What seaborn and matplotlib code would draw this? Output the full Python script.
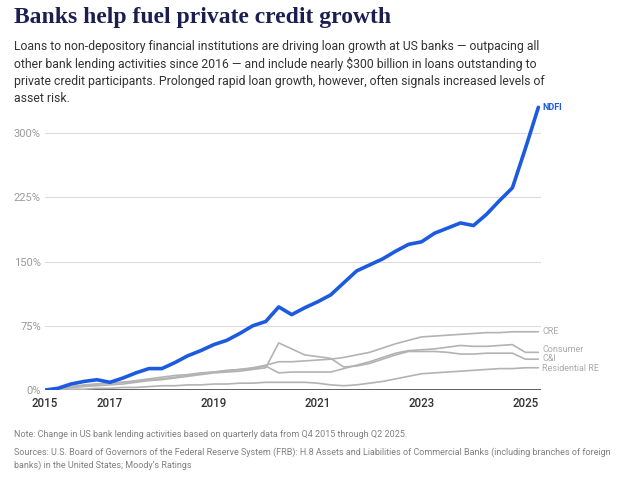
import numpy as np
import pandas as pd
import matplotlib
matplotlib.use('Agg')
import matplotlib.pyplot as plt
import seaborn as sns

# quarterly from Q4 2015 through Q2 2025
quarters = [2015.75 + 0.25 * i for i in range(39)]

ndfi = [0, 2, 7, 10, 12, 9, 14, 20, 25, 25, 32, 40, 46, 53, 58, 66, 75, 80, 97, 88,
        96, 103, 111, 125, 139, 146, 153, 162, 170, 173, 183, 189, 195, 192, 205, 221,
        236, 282, 330]
cre = [0, 1, 3, 5, 7, 8, 9, 11, 13, 15, 17, 18, 20, 21, 23, 24, 26, 29, 33, 33,
       34, 35, 36, 38, 41, 44, 49, 54, 58, 62, 63, 64, 65, 66, 67, 67, 68, 68, 68]
consumer = [0, 2, 4, 6, 7, 8, 9, 10, 12, 13, 15, 17, 19, 21, 22, 24, 25, 28, 20, 21,
            21, 21, 21, 25, 29, 33, 38, 43, 46, 47, 48, 50, 52, 51, 51, 52, 53, 44, 44]
c_and_i = [0, 1, 3, 4, 5, 6, 7, 9, 11, 12, 14, 16, 18, 20, 21, 22, 24, 26, 55, 48,
           41, 39, 37, 27, 28, 31, 36, 41, 45, 45, 45, 44, 42, 42, 43, 43, 43, 36, 36]
residential = [0, 0, 1, 1, 2, 2, 3, 3, 4, 5, 5, 6, 6, 7, 7, 8, 8, 9, 9, 9,
               9, 8, 6, 5, 6, 8, 10, 13, 16, 19, 20, 21, 22, 23, 24, 25, 25, 26, 26]

year_ticks = [2015.75, 2017, 2019, 2021, 2023, 2025]
year_labels = ['2015', '2017', '2019', '2021', '2023', '2025']
pct_ticks = [0, 75, 150, 225, 300]

sns.set_style('white')
plt.rcParams['font.family'] = ['Roboto', 'DejaVu Sans']

fig = plt.figure(figsize=(6.27, 4.83), dpi=100)
ax = fig.add_axes([0.0718, 0.1925, 0.791, 0.5942])

gray = '#b3b3b3'
blue = '#1c5be0'

for vals in [residential, c_and_i, consumer, cre]:
    sns.lineplot(x=quarters, y=vals, ax=ax, color=gray, linewidth=1.2)
sns.lineplot(x=quarters, y=ndfi, ax=ax, color=blue, linewidth=2.6)

ax.set_xlim(2015.75, 2025.3)
ax.set_ylim(0, 335)
ax.set_yticks(pct_ticks)
ax.set_yticklabels([f'{t}%' for t in pct_ticks], color='#9a9a9a', fontsize=8)
ax.set_xticks(year_ticks)
ax.set_xticklabels(year_labels, color='#333333', fontsize=8.3, fontweight='medium')
ax.tick_params(axis='y', length=0, pad=3)
ax.tick_params(axis='x', length=2, width=0.6, color='#888888', pad=3)
for t in pct_ticks[1:]:
    ax.axhline(t, color='#dcdcdc', linewidth=0.8, zorder=0)
ax.axhline(0, color='#555555', linewidth=1.3, zorder=1)
for s in ax.spines.values():
    s.set_visible(False)
ax.set_xlabel('')
ax.set_ylabel('')

# end labels
end_x = quarters[-1] + 0.07
ax.text(end_x, ndfi[-1], 'NDFI', color=blue, fontsize=6.5, fontweight='bold', va='center')
ax.text(end_x, 68, 'CRE', color='#aaaaaa', fontsize=6.5, va='center')
ax.text(end_x, 47.5, 'Consumer', color='#aaaaaa', fontsize=6.5, va='center')
ax.text(end_x, 36.5, 'C&I', color='#aaaaaa', fontsize=6.5, va='center')
ax.text(end_x, 25, 'Residential RE', color='#aaaaaa', fontsize=6.5, va='center')

fig.text(0.022, 0.963, 'Banks help fuel private credit growth', fontsize=17,
         fontweight='bold', family='Liberation Serif', color='#1b1f50', va='center')
subtitle = ('Loans to non-depository financial institutions are driving loan growth at US banks \u2014 outpacing all\n'
            'other bank lending activities since 2016 \u2014 and include nearly $300 billion in loans outstanding to\n'
            'private credit participants. Prolonged rapid loan growth, however, often signals increased levels of\n'
            'asset risk.')
fig.text(0.022, 0.918, subtitle, fontsize=8.8, color='#333333', va='top', linespacing=1.4)

fig.text(0.022, 0.101, 'Note: Change in US bank lending activities based on quarterly data from Q4 2015 through Q2 2025.',
         fontsize=6.5, color='#808080', va='center')
fig.text(0.022, 0.050, 'Sources: U.S. Board of Governors of the Federal Reserve System (FRB): H.8 Assets and Liabilities '
         'of Commercial Banks (including branches of foreign\nbanks) in the United States; Moody\u2019s Ratings',
         fontsize=6.5, color='#808080', va='center', linespacing=1.45)

fig.savefig('out.png', dpi=100, facecolor='white')
